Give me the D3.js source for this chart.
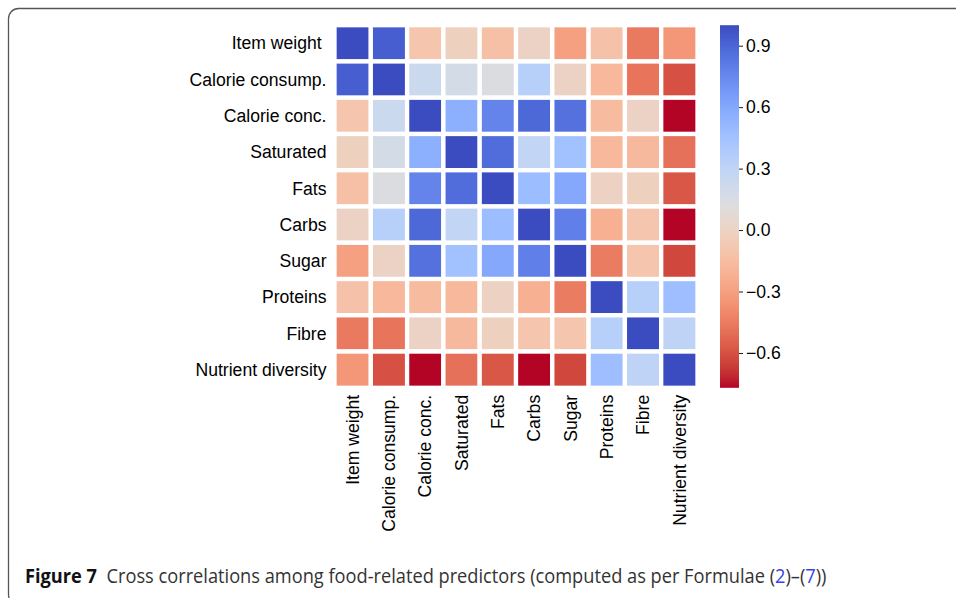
<!DOCTYPE html>
<html>
<head>
<meta charset="utf-8">
<script src="https://cdn.jsdelivr.net/npm/d3@7"></script>
<style>
  html, body { margin: 0; padding: 0; background: #fff; }
  #graph { width: 956px; height: 598px; }
</style>
</head>
<body>
<div id="graph"></div>
<script>
// Data //////////////////////////////////////////////////////////////////////
const labels = [
  "Item weight", "Calorie consump.", "Calorie conc.", "Saturated", "Fats",
  "Carbs", "Sugar", "Proteins", "Fibre", "Nutrient diversity"
];

// correlation matrix (rows = y labels)
const corr = [
  [ 1.00,  0.93, -0.10, -0.02, -0.13,  0.00, -0.30, -0.12, -0.46, -0.34],
  [ 0.93,  1.00,  0.23,  0.18,  0.13,  0.34,  0.00, -0.18, -0.48, -0.60],
  [-0.10,  0.23,  1.00,  0.56,  0.77,  0.89,  0.85, -0.16,  0.00, -0.77],
  [-0.02,  0.18,  0.56,  1.00,  0.87,  0.28,  0.45, -0.18, -0.17, -0.49],
  [-0.13,  0.13,  0.77,  0.87,  1.00,  0.48,  0.60, -0.01, -0.02, -0.58],
  [ 0.00,  0.34,  0.89,  0.28,  0.48,  1.00,  0.79, -0.22, -0.10, -0.77],
  [-0.30,  0.00,  0.85,  0.45,  0.60,  0.79,  1.00, -0.45, -0.10, -0.63],
  [-0.12, -0.18, -0.16, -0.18, -0.01, -0.22, -0.45,  1.00,  0.34,  0.47],
  [-0.46, -0.48,  0.00, -0.17, -0.02, -0.10, -0.10,  0.34,  1.00,  0.30],
  [-0.34, -0.60, -0.77, -0.49, -0.58, -0.77, -0.63,  0.47,  0.30,  1.00]
];

const colorTicks = [-0.6, -0.3, 0.0, 0.3, 0.6, 0.9];
const vMin = -0.77;
const vMax = 1.0;

// coolwarm (blue -> grey -> red), flipped below so blue = high
const coolwarm = [
  [59,76,192],[68,90,204],[77,104,215],[87,117,225],[98,130,234],[108,142,241],
  [119,154,247],[130,165,251],[141,176,254],[152,185,255],[163,194,255],[174,201,253],
  [184,208,249],[194,213,244],[204,217,238],[213,219,230],[221,221,221],[229,216,209],
  [236,211,197],[241,204,184],[245,196,172],[247,187,159],[247,177,147],[247,166,134],
  [244,154,123],[241,141,111],[236,127,99],[229,112,89],[222,96,77],[213,80,66],
  [203,62,56],[192,40,47],[180,4,38]
];

// Constants ////////////////////////////////////////////////////////////////
const svgWidth = 956;
const svgHeight = 598;
const grid = { x0: 334.5, x1: 697.5, y0: 25.2, y1: 387.8 };
const bar = { x: 720, w: 19 };
const fontFamily = "'Liberation Sans', Arial, sans-serif";
const labelSize = "17.6px";

const svg = d3
  .select("#graph")
  .append("svg")
  .attr("width", svgWidth)
  .attr("height", svgHeight);

// Frame ////////////////////////////////////////////////////////////////////
svg
  .append("rect")
  .attr("x", 8.5)
  .attr("y", 8.5)
  .attr("width", 1000)
  .attr("height", 596)
  .attr("rx", 10)
  .style("fill", "none")
  .style("stroke", "#555")
  .style("stroke-width", 1.3);

// Scales ///////////////////////////////////////////////////////////////////
const stopT = coolwarm.map((d, i) => i / (coolwarm.length - 1));
const cw = d3
  .scaleLinear()
  .domain(stopT)
  .range(coolwarm.map(c => d3.rgb(c[0], c[1], c[2])))
  .interpolate(d3.interpolateRgb)
  .clamp(true);

const color = v => cw((vMax - v) / (vMax - vMin));

const x = d3.scaleBand().domain(labels).range([grid.x0, grid.x1]);
const y = d3.scaleBand().domain(labels).range([grid.y0, grid.y1]);

// Cells ////////////////////////////////////////////////////////////////////
const cells = [];
corr.forEach((row, i) => {
  row.forEach((v, j) => {
    cells.push({ row: labels[i], col: labels[j], value: v });
  });
});

svg
  .append("g")
  .selectAll("rect")
  .data(cells)
  .join("rect")
  .attr("x", d => x(d.col))
  .attr("y", d => y(d.row))
  .attr("width", x.bandwidth())
  .attr("height", y.bandwidth())
  .style("fill", d => color(d.value))
  .style("stroke", "#fff")
  .style("stroke-width", 4.3);

// Axis labels //////////////////////////////////////////////////////////////
svg
  .append("g")
  .selectAll("text")
  .data(labels)
  .join("text")
  .attr("x", grid.x0 - 8)
  .attr("y", d => y(d) + y.bandwidth() / 2)
  .attr("dy", "0.35em")
  .attr("text-anchor", "end")
  .style("font-family", fontFamily)
  .style("font-size", labelSize)
  .style("white-space", "pre")
  .text(d => (d === "Item weight" ? d + " " : d));

svg
  .append("g")
  .selectAll("text")
  .data(labels)
  .join("text")
  .attr("transform", d => `translate(${x(d) + x.bandwidth() / 2}, ${grid.y1 + 7}) rotate(-90)`)
  .attr("dy", "0.35em")
  .attr("text-anchor", "end")
  .style("font-family", fontFamily)
  .style("font-size", labelSize)
  .text(d => d);

// Colour bar ///////////////////////////////////////////////////////////////
const defs = svg.append("defs");
const grad = defs
  .append("linearGradient")
  .attr("id", "cbar")
  .attr("x1", 0).attr("y1", 0)
  .attr("x2", 0).attr("y2", 1);

grad
  .selectAll("stop")
  .data(d3.range(0, 1.0001, 1 / 64))
  .join("stop")
  .attr("offset", d => d)
  .attr("stop-color", d => cw(d));

const cy = d3.scaleLinear().domain([vMin, vMax]).range([grid.y1, grid.y0]);

svg
  .append("rect")
  .attr("x", bar.x)
  .attr("y", grid.y0)
  .attr("width", bar.w)
  .attr("height", grid.y1 - grid.y0)
  .style("fill", "url(#cbar)");

const cAxis = svg
  .append("g")
  .attr("transform", `translate(${bar.x + bar.w}, 0)`)
  .call(
    d3.axisRight(cy)
      .tickValues(colorTicks)
      .tickSize(4)
      .tickPadding(3)
      .tickFormat(d3.format(".1f"))
  );

cAxis.select(".domain").remove();
cAxis.selectAll("line").style("stroke", "#000").style("stroke-width", 0.9);
cAxis
  .selectAll("text")
  .style("font-family", fontFamily)
  .style("font-size", labelSize)
  .style("fill", "#000");

// Caption //////////////////////////////////////////////////////////////////
const caption = svg
  .append("text")
  .attr("x", 0)
  .attr("y", 0)
  .style("font-family", "'Open Sans', 'Noto Sans', sans-serif")
  .style("font-size", "20px")
  .style("fill", "#333")
  .style("white-space", "pre");

caption.append("tspan").style("font-weight", "bold").style("fill", "#111").text("Figure 7");
caption.append("tspan").text("  Cross correlations among food-related predictors (computed as per Formulae (");
caption.append("tspan").style("fill", "#3344ee").text("2");
caption.append("tspan").text(")–(");
caption.append("tspan").style("fill", "#3344ee").text("7");
caption.append("tspan").text("))");

const capWidth = caption.node().getComputedTextLength();
const targetWidth = 827 - 25;
caption.attr("transform", `translate(25, 582.5) scale(${targetWidth / capWidth}, 1)`);
</script>
</body>
</html>
